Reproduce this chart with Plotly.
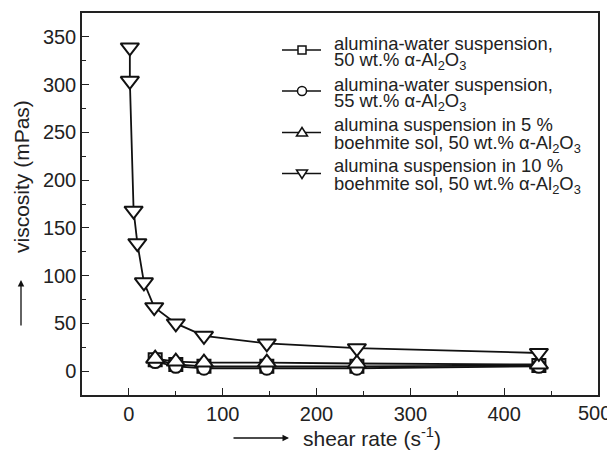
import plotly.graph_objects as go

# ---- data ----
shear_low = [28, 50, 80, 147, 243, 437]
visc_50wt = [12, 7, 5, 5, 5, 6]
visc_55wt = [10, 5, 3, 3, 3, 5]
visc_5boeh = [13, 10, 9, 9, 8, 7]

shear_10boeh = [1, 1, 5, 9, 16, 27, 50, 80, 147, 243, 437]
visc_10boeh = [339, 304, 168, 134, 93, 67, 50, 37, 29, 24, 19]

x_ticks = [0, 100, 200, 300, 400, 500]
x_ticktext = ["0", "100", "200", "300", "400", "500"]
y_ticks = [0, 50, 100, 150, 200, 250, 300, 350]

legend_lines = [
    ("alumina-water suspension,", "50 wt.% α-Al<sub>2</sub>O<sub>3</sub>"),
    ("alumina-water suspension,", "55 wt.% α-Al<sub>2</sub>O<sub>3</sub>"),
    ("alumina suspension in 5 %", "boehmite sol, 50 wt.% α-Al<sub>2</sub>O<sub>3</sub>"),
    ("alumina suspension in 10 %", "boehmite sol, 50 wt.% α-Al<sub>2</sub>O<sub>3</sub>"),
]
symbols = ["square", "circle", "triangle-up", "triangle-down"]
sizes = [13, 13, 16, 16]
xs = [shear_low, shear_low, shear_low, shear_10boeh]
ys = [visc_50wt, visc_55wt, visc_5boeh, visc_10boeh]

FONT = "Liberation Sans, Arial, sans-serif"
TXT = "#222222"
INK = "#111111"

fig = go.Figure()
for (l1, l2), x, y, sym, sz in zip(legend_lines, xs, ys, symbols, sizes):
    fig.add_trace(go.Scatter(
        x=x, y=y, mode="lines+markers", name=l1 + " " + l2, showlegend=False,
        line=dict(color=INK, width=1.8),
        marker=dict(symbol=sym, size=sz, color="white",
                    line=dict(color=INK, width=2)),
    ))

# page has an 8px body margin: compensate so plot area lands at page pixels
OFF = 8
W, H = 615 - OFF, 458 - OFF
PL, PR, PT, PB = 82, 598, 13, 395          # plot area in page pixels
L, R, T, B = PL - OFF, OFF + W - PR, PT - OFF, OFF + H - PB
pw, ph = PR - PL, PB - PT

def px(xp):
    return (xp - PL) / pw

def py(yp):
    return (PB - yp) / ph

# ---- hand-placed legend (two tight lines per entry) ----
entry_rows = [(43, 61), (84, 102), (125, 144), (166, 185)]
annotations = []
shapes = []
for (l1, l2), (y1, y2), sym in zip(legend_lines, entry_rows, symbols):
    yc = (y1 + y2) / 2 - 2
    annotations.append(dict(text=l1, xref="paper", yref="paper", x=px(332), y=py(y1),
                            xanchor="left", yanchor="middle", showarrow=False,
                            font=dict(size=18.4, color=TXT)))
    annotations.append(dict(text=l2, xref="paper", yref="paper", x=px(332), y=py(y2),
                            xanchor="left", yanchor="middle", showarrow=False,
                            font=dict(size=18.4, color=TXT)))
    shapes.append(dict(type="line", xref="paper", yref="paper", x0=px(282), x1=px(321),
                       y0=py(yc), y1=py(yc), line=dict(color=INK, width=1.5)))
    common = dict(xref="paper", yref="paper", xsizemode="pixel", ysizemode="pixel",
                  xanchor=px(302), yanchor=py(yc), fillcolor="white",
                  line=dict(color=INK, width=1.5))
    if sym == "square":
        shapes.append(dict(type="rect", x0=-4, x1=4, y0=-4, y1=4, **common))
    elif sym == "circle":
        shapes.append(dict(type="circle", x0=-4.5, x1=4.5, y0=-4.5, y1=4.5, **common))
    elif sym == "triangle-up":
        shapes.append(dict(type="path", path="M-5.5,-3.5 L5.5,-3.5 L0,5 Z", **common))
    else:
        shapes.append(dict(type="path", path="M-5.5,3.5 L5.5,3.5 L0,-5 Z", **common))

# last x tick label sits slightly left of its tick (as in the original), so it
# is placed as a text annotation; the axis shows the others
annotations.append(dict(text=x_ticktext[-1], xref="paper", yref="paper",
                        x=px(594), y=py(413), xanchor="center", yanchor="middle",
                        showarrow=False, font=dict(size=20, color=TXT)))

# ---- axis titles with arrows ----
annotations += [
    dict(text="viscosity (mPas)", textangle=-90, xref="paper", yref="paper",
         x=px(21), y=py(177), showarrow=False, font=dict(size=21, color=TXT),
         xanchor="center", yanchor="middle"),
    dict(text="", xref="paper", yref="paper", x=px(21), y=py(280),
         ax=0, ay=47, showarrow=True, arrowhead=2, arrowsize=1, arrowwidth=1.3,
         arrowcolor=INK),
    dict(text="shear rate (s<sup>-1</sup>)", xref="paper", yref="paper",
         x=px(372), y=py(437), showarrow=False, font=dict(size=21, color=TXT),
         xanchor="center", yanchor="middle"),
    dict(text="", xref="paper", yref="paper", x=px(289), y=py(438),
         ax=-57, ay=0, showarrow=True, arrowhead=2, arrowsize=1, arrowwidth=1.3,
         arrowcolor=INK),
]

axis_common = dict(
    ticks="inside", ticklen=7, tickwidth=1.2, tickcolor="#222",
    showline=True, linecolor="#222", linewidth=1.5, mirror=True,
    showgrid=False, zeroline=False, automargin=False,
    tickfont=dict(size=20, color=TXT),
)

fig.update_layout(
    width=W, height=H,
    margin=dict(l=L, r=R, t=T, b=B, autoexpand=False),
    paper_bgcolor="white", plot_bgcolor="white",
    font=dict(family=FONT, color=TXT, size=18),
    showlegend=False,
    xaxis=dict(range=[-50, 500], tickvals=x_ticks,
               ticktext=x_ticktext[:-1] + [""],
               minor=dict(dtick=50, tick0=0, ticks="inside", ticklen=4, tickcolor="#222"),
               **axis_common),
    yaxis=dict(range=[-25, 375], tickvals=y_ticks,
               minor=dict(dtick=25, tick0=0, ticks="inside", ticklen=4, tickcolor="#222"),
               **axis_common),
    annotations=annotations,
    shapes=shapes,
)

fig.write_html("out.html")
